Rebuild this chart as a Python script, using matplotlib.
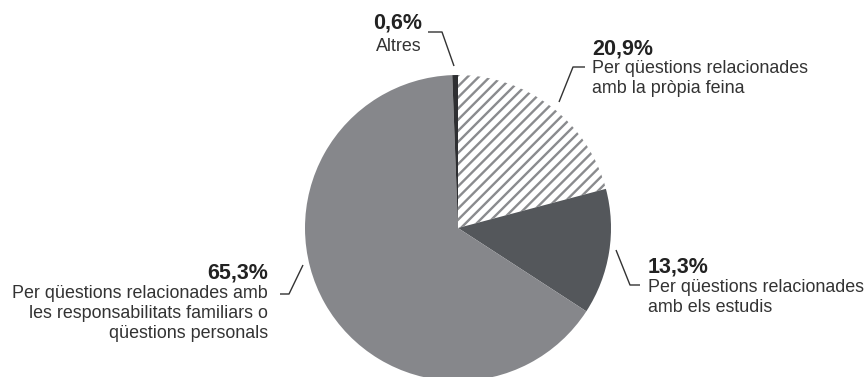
import matplotlib
matplotlib.use("Agg")
import matplotlib.pyplot as plt
from matplotlib import font_manager

# Data
categories = ["Per qüestions relacionades\namb la pròpia feina",
              "Per qüestions relacionades\namb els estudis",
              "Per qüestions relacionades amb\nles responsabilitats familiars o\nqüestions personals",
              "Altres"]
values = [20.9, 13.3, 65.3, 0.6]
pct_labels = ["20,9%", "13,3%", "65,3%", "0,6%"]

W, H = 866, 377
plt.rcParams['hatch.linewidth'] = 1.7
fig = plt.figure(figsize=(W / 100, H / 100), dpi=100)
ax = fig.add_axes([0, 0, 1, 1])

def Y(y):
    return H - y

face = ["white", "#54575b", "#86878b", "#2e2f32"]
edges = ["#8a8b8e", "#54575b", "#86878b", "#2e2f32"]
wedges, _ = ax.pie(values, startangle=90, counterclock=False,
                   center=(458, Y(228)), radius=153, colors=face,
                   wedgeprops=dict(linewidth=0), frame=True)
for w, ec in zip(wedges, edges):
    w.set_edgecolor(ec)
    w.set_linewidth(0)
wedges[0].set_hatch('///')
ax.set_xlim(0, W)
ax.set_ylim(0, H)
ax.set_aspect('equal')
ax.axis('off')

names = {f.name for f in font_manager.fontManager.ttflist}
narrow = 'Liberation Sans Narrow' in names
txt = "#222222"
fam = ['Liberation Sans', 'DejaVu Sans']
if narrow:
    bold_kw = dict(fontsize=16.5, fontweight='bold', color=txt,
                   family=['Liberation Sans Narrow', 'Liberation Sans'], va='baseline')
else:
    bold_kw = dict(fontsize=15.5, fontweight='bold', color=txt, family=fam,
                   va='baseline', stretch='condensed')
reg_kw = dict(fontsize=12.9, color="#333333", family=fam, va='baseline')

# label layout: (pct x, pct baseline, text baseline, ha)
layout = [(592, 54, 73, 'left'),
          (648, 273, 292, 'left'),
          (268, 279, 298, 'right'),
          (422, 29, 51, 'right')]
leaders = [[(585, 67), (573, 67), (559, 102)],
           [(616, 250), (630, 285), (640, 285)],
           [(280, 294), (289, 294), (303, 265)],
           [(428, 32), (442, 32), (454, 66)]]

for (x, yb, yt, ha), pl, cat, ld in zip(layout, pct_labels, categories, leaders):
    ax.text(x, Y(yb), pl, ha=ha, **bold_kw)
    lines = cat.split("\n")
    for i, ln in enumerate(lines):
        ax.text(x, Y(yt + i * 20), ln, ha=ha, **reg_kw)
    xs = [p[0] for p in ld]
    ys = [Y(p[1]) for p in ld]
    ax.plot(xs, ys, color="#333333", lw=1.0, solid_capstyle='butt')

fig.savefig("out.png", dpi=100)
